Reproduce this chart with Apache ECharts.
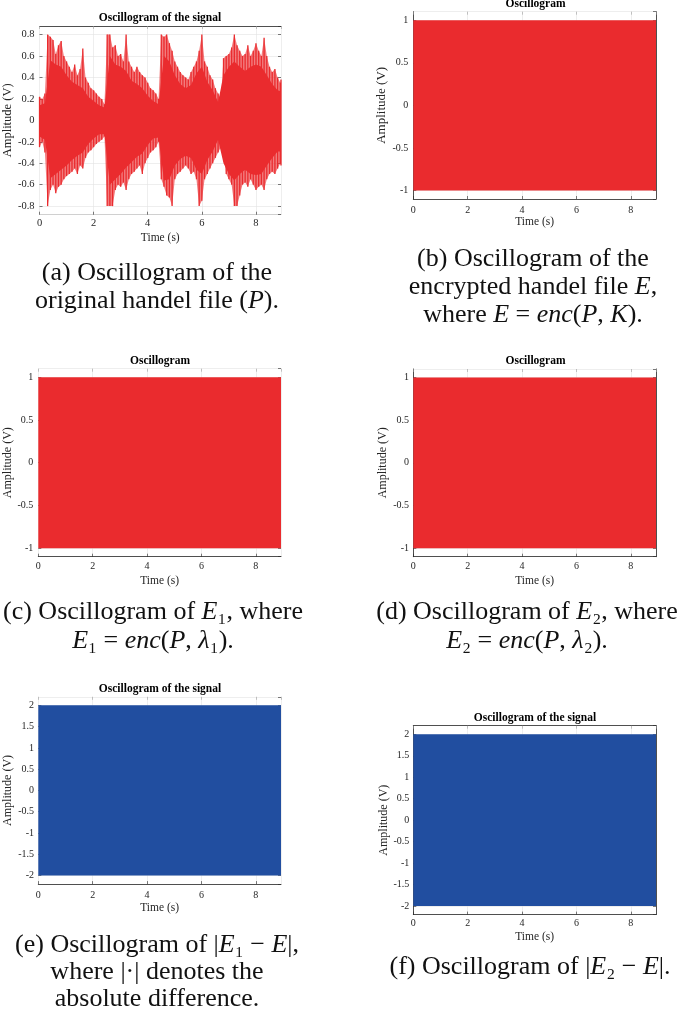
<!DOCTYPE html>
<html><head><meta charset="utf-8">
<script src="https://cdn.jsdelivr.net/npm/echarts@6/dist/echarts.min.js"></script>
<style>html,body{margin:0;padding:0;background:#fff}#c{width:685px;height:1014px}</style>
</head><body><div id="c"></div>
<script>
// ---------------- data ----------------
const tEnd = 8.925;               // duration of the handel clip (s)
const xTicks = [0, 2, 4, 6, 8];

// (a) original signal: peak envelope every 0.1 s
const tPeakA = [0,0.1,0.2,0.3,0.4,0.5,0.6,0.7,0.8,0.9,1,1.1,1.2,1.3,1.4,1.5,1.6,1.7,1.8,1.9,
  2,2.1,2.2,2.3,2.4,2.5,2.6,2.7,2.8,2.9,3,3.1,3.2,3.3,3.4,3.5,3.6,3.7,3.8,3.9,
  4,4.1,4.2,4.3,4.4,4.5,4.6,4.7,4.8,4.9,5,5.1,5.2,5.3,5.4,5.5,5.6,5.7,5.8,5.9,
  6,6.1,6.2,6.3,6.4,6.5,6.6,6.7,6.8,6.9,7,7.1,7.2,7.3,7.4,7.5,7.6,7.7,7.8,7.9,
  8,8.1,8.2,8.3,8.4,8.5,8.6,8.7,8.8,8.9,8.925];
const peakHiA = [0.22,0.2,0.25,0.8,0.78,0.75,0.62,0.7,0.74,0.6,
  0.55,0.5,0.45,0.52,0.42,0.48,0.67,0.4,0.35,0.3,
  0.28,0.25,0.22,0.2,0.15,0.8,0.8,0.68,0.7,0.6,
  0.62,0.55,0.8,0.55,0.5,0.45,0.5,0.45,0.42,0.4,
  0.35,0.3,0.28,0.25,0.2,0.8,0.78,0.8,0.72,0.65,
  0.55,0.5,0.45,0.42,0.4,0.38,0.45,0.5,0.55,0.65,
  0.8,0.55,0.5,0.42,0.38,0.3,0.25,0.2,0.58,0.6,
  0.62,0.68,0.8,0.7,0.65,0.6,0.62,0.7,0.6,0.65,
  0.72,0.65,0.6,0.77,0.6,0.5,0.45,0.48,0.4,0.35,0.38];
const peakLoA = [-0.25,-0.2,-0.3,-0.8,-0.65,-0.6,-0.68,-0.62,-0.6,-0.55,
  -0.52,-0.5,-0.48,-0.45,-0.5,-0.42,-0.45,-0.35,-0.3,-0.28,
  -0.25,-0.22,-0.2,-0.18,-0.15,-0.8,-0.8,-0.8,-0.65,-0.6,
  -0.62,-0.58,-0.65,-0.55,-0.5,-0.48,-0.45,-0.42,-0.5,-0.4,
  -0.35,-0.3,-0.28,-0.25,-0.2,-0.55,-0.62,-0.7,-0.72,-0.8,
  -0.55,-0.5,-0.48,-0.45,-0.42,-0.45,-0.5,-0.48,-0.55,-0.8,
  -0.75,-0.55,-0.5,-0.45,-0.4,-0.35,-0.3,-0.25,-0.28,-0.5,
  -0.55,-0.6,-0.8,-0.8,-0.7,-0.6,-0.58,-0.62,-0.55,-0.6,
  -0.65,-0.62,-0.6,-0.65,-0.55,-0.5,-0.48,-0.5,-0.45,-0.4,-0.42];

// (a) dense core of the signal every 0.2 s
const tCoreA = [0,0.2,0.4,0.6,0.8,1,1.2,1.4,1.6,1.8,2,2.2,2.4,2.6,2.8,3,3.2,3.4,3.6,3.8,
  4,4.2,4.4,4.6,4.8,5,5.2,5.4,5.6,5.8,6,6.2,6.4,6.6,6.8,7,7.2,7.4,7.6,7.8,8,8.2,8.4,8.6,8.8,8.925];
const coreHiA = [0.14,0.16,0.56,0.52,0.5,0.42,0.36,0.33,0.3,0.22,
  0.18,0.14,0.12,0.6,0.52,0.5,0.46,0.37,0.34,0.3,
  0.23,0.18,0.15,0.6,0.55,0.42,0.34,0.3,0.33,0.44,
  0.5,0.36,0.28,0.17,0.42,0.5,0.55,0.5,0.46,0.5,
  0.52,0.5,0.42,0.34,0.28,0.27];
const coreLoA = [-0.15,-0.18,-0.54,-0.5,-0.46,-0.42,-0.37,-0.33,-0.3,-0.22,
  -0.17,-0.13,-0.13,-0.6,-0.55,-0.5,-0.44,-0.39,-0.34,-0.31,
  -0.23,-0.17,-0.16,-0.56,-0.55,-0.42,-0.36,-0.33,-0.35,-0.46,
  -0.5,-0.37,-0.29,-0.18,-0.4,-0.5,-0.56,-0.5,-0.46,-0.5,
  -0.51,-0.5,-0.42,-0.35,-0.29,-0.29];

// (b)-(f): envelopes of the noise-like encrypted / difference signals
const tFill = [0, 1, 2, 3, 4, 5, 6, 7, 8, 8.925];
const hiB = [1,1,1,1,1,1,1,1,1,1],           loB = [-1,-1,-1,-1,-1,-1,-1,-1,-1,-1];
const hiC = [1,1,1,1,1,1,1,1,1,1],           loC = [-1,-1,-1,-1,-1,-1,-1,-1,-1,-1];
const hiD = [1,1,1,1,1,1,1,1,1,1],           loD = [-1,-1,-1,-1,-1,-1,-1,-1,-1,-1];
const hiE = [2,2,2,2,2,2,2,2,2,2],           loE = [-2,-2,-2,-2,-2,-2,-2,-2,-2,-2];
const hiF = [2,2,2,2,2,2,2,2,2,2],           loF = [-2,-2,-2,-2,-2,-2,-2,-2,-2,-2];

// ---------------- styling / layout ----------------
const FONT = 'Liberation Serif';
const TXT = '#262626';
const GRIDC = '#e2e2e2';
const RED = '#EA2B2E';
const BLUE = '#214EA0';
const DARK = '#262626';

const panels = [
  {left:38.3, top:26, w:242.7, h:188.7, yMin:-0.88, yMax:0.88, yStep:0.2, fs:10.5, xm:3, ym:5, xng:17, yng:19, yns:12.5,
   title:'Oscillogram of the signal', tx:160, ty:18, lt:DARK, lr:null, lb:'#c8c8c8', ll:null},
  {left:413.3, top:11.7, w:242.7, h:187.3, yMin:-1.1, yMax:1.1, yStep:0.5, fs:10, xm:6, ym:5, xng:17, yng:15, yns:13,
   title:'Oscillogram', tx:535.5, ty:4.5, lt:null, lr:DARK, lb:DARK, ll:DARK},
  {left:38.3, top:368.7, w:242.7, h:188, yMin:-1.1, yMax:1.1, yStep:0.5, fs:10, xm:4.4, ym:5, xng:18, yng:19, yns:12,
   title:'Oscillogram', tx:160, ty:361, lt:null, lr:null, lb:DARK, ll:null},
  {left:413.3, top:369, w:242.7, h:187.7, yMin:-1.1, yMax:1.1, yStep:0.5, fs:10, xm:4.4, ym:4.3, xng:18, yng:16, yns:12,
   title:'Oscillogram', tx:535.5, ty:361, lt:null, lr:DARK, lb:DARK, ll:DARK},
  {left:38.3, top:696.8, w:242.7, h:187.3, yMin:-2.2, yMax:2.2, yStep:0.5, fs:10, xm:6, ym:4.3, xng:18, yng:19, yns:12,
   title:'Oscillogram of the signal', tx:160, ty:689, lt:null, lr:null, lb:DARK, ll:null},
  {left:413.3, top:725.7, w:242.7, h:188.9, yMin:-2.2, yMax:2.2, yStep:0.5, fs:10, xm:3.4, ym:4, xng:16.4, yng:22, yns:12,
   title:'Oscillogram of the signal', tx:535, ty:718, lt:DARK, lr:DARK, lb:DARK, ll:DARK}
];

const grids = [], xAxes = [], yAxes = [], series = [], graphics = [];

panels.forEach((p, i) => {
  grids.push({left:p.left, top:p.top, width:p.w, height:p.h, show:false});
  const tick = (c) => ({show:true, inside:true, length:3, lineStyle:{color:c, width:0.6}});
  const line = (c) => ({show:!!c, onZero:false, lineStyle:{color:c || DARK, width:0.8}});
  xAxes.push({type:'value', gridIndex:i, position:'bottom', min:0, max:tEnd, interval:2,
    axisLine:line(p.lb), axisTick:tick(DARK),
    axisLabel:{fontSize:p.fs, color:TXT, margin:p.xm, fontFamily:FONT, showMaxLabel:false,
      formatter:(v) => xTicks.indexOf(v) >= 0 ? String(v) : ''},
    splitLine:{show:true, lineStyle:{color:GRIDC, width:0.6}},
    name:'Time (s)', nameLocation:'middle', nameGap:p.xng,
    nameTextStyle:{fontSize:11.5, color:TXT, fontFamily:FONT}});
  xAxes.push({type:'value', gridIndex:i, position:'top', min:0, max:tEnd, interval:2,
    axisLine:line(p.lt), axisTick:tick('#a0a0a0'), axisLabel:{show:false}, splitLine:{show:false}});
  yAxes.push({type:'value', gridIndex:i, position:'left', min:p.yMin, max:p.yMax,
    minInterval:p.yStep, maxInterval:p.yStep, splitNumber:8,
    axisLine:line(p.ll), axisTick:tick(DARK),
    axisLabel:{fontSize:p.fs, color:TXT, margin:p.ym, fontFamily:FONT, showMinLabel:false, showMaxLabel:false},
    splitLine:{show:true, lineStyle:{color:GRIDC, width:0.6}},
    name:'Amplitude (V)', nameLocation:'middle', nameGap:p.yng, nameRotate:90,
    nameTextStyle:{fontSize:p.yns, color:TXT, fontFamily:FONT}});
  yAxes.push({type:'value', gridIndex:i, position:'right', min:p.yMin, max:p.yMax,
    minInterval:p.yStep, maxInterval:p.yStep, splitNumber:8,
    axisLine:line(p.lr), axisTick:tick(DARK), axisLabel:{show:false}, splitLine:{show:false}});
  graphics.push({type:'text', x:p.tx, y:p.ty, silent:true,
    style:{text:p.title, fill:'#000', font:'bold 11.5px "Liberation Serif"',
      align:'center', verticalAlign:'middle', textAlign:'center', textVerticalAlign:'middle'}});
});

// filled envelope drawn as one polygon through the axis scales
function band(panel, t, lo, hi, color, opacity, z) {
  series.push({type:'custom', xAxisIndex:2*panel, yAxisIndex:2*panel, silent:true, z:z,
    data:[[t[0], lo[0]]], encode:{x:0, y:1},
    renderItem:(params, api) => {
      const pts = [];
      for (let k = 0; k < t.length; k++) pts.push(api.coord([t[k], hi[k]]));
      for (let k = t.length - 1; k >= 0; k--) pts.push(api.coord([t[k], lo[k]]));
      return {type:'polygon', shape:{points:pts}, style:{fill:color, opacity:opacity}};
    }});
}
// individual needle peaks of the original signal
function spikes(panel, t, lo, hi, color, opacity, z) {
  series.push({type:'custom', xAxisIndex:2*panel, yAxisIndex:2*panel, silent:true, z:z,
    data:t.map((x, k) => [x, lo[k], hi[k]]), encode:{x:0, y:[1, 2]},
    renderItem:(params, api) => {
      const a = api.coord([api.value(0), api.value(1)]);
      const b = api.coord([api.value(0), api.value(2)]);
      return {type:'line', shape:{x1:a[0], y1:a[1], x2:b[0], y2:b[1]},
        style:{stroke:color, lineWidth:1.3, opacity:opacity}};
    }});
}

band(0, tPeakA, peakLoA, peakHiA, RED, 0.62, 2);
spikes(0, tPeakA, peakLoA, peakHiA, RED, 1, 3);
band(0, tCoreA, coreLoA, coreHiA, RED, 1, 4);
band(1, tFill, loB, hiB, RED, 1, 2);
band(2, tFill, loC, hiC, RED, 1, 2);
band(3, tFill, loD, hiD, RED, 1, 2);
band(4, tFill, loE, hiE, BLUE, 1, 2);
band(5, tFill, loF, hiF, BLUE, 1, 2);

// ---------------- captions ----------------
const CAP = 26;
const rich = {
  n:{fontFamily:FONT, fontSize:CAP, fill:'#111'},
  i:{fontFamily:FONT, fontSize:CAP, fontStyle:'italic', fill:'#111'}
};
const captions = [
  [157, 273, '{n|(a) Oscillogram of the}'],
  [157, 301, '{n|original handel file (}{i|P}{n|).}'],
  [533, 259, '{n|(b) Oscillogram of the}'],
  [533, 287, '{n|encrypted handel file }{i|E}{n|,}'],
  [533, 315, '{n|where }{i|E}{n| = }{i|enc}{n|(}{i|P}{n|, }{i|K}{n|).}'],
  [153, 612, '{n|(c) Oscillogram of }{i|E}{n|₁, where}'],
  [153, 641, '{i|E}{n|₁ = }{i|enc}{n|(}{i|P}{n|, }{i|λ}{n|₁).}'],
  [527, 612, '{n|(d) Oscillogram of }{i|E}{n|₂, where}'],
  [527, 641, '{i|E}{n|₂ = }{i|enc}{n|(}{i|P}{n|, }{i|λ}{n|₂).}'],
  [157, 945, '{n|(e) Oscillogram of |}{i|E}{n|₁ − }{i|E}{n||,}'],
  [157, 972, '{n|where |·| denotes the}'],
  [157, 999, '{n|absolute difference.}'],
  [530, 967, '{n|(f) Oscillogram of |}{i|E}{n|₂ − }{i|E}{n||.}']
];
captions.forEach(c => graphics.push({type:'text', x:c[0], y:c[1], silent:true,
  style:{text:c[2], rich:rich, font:CAP + 'px "Liberation Serif"', fill:'#111',
    align:'center', verticalAlign:'middle', textAlign:'center', textVerticalAlign:'middle'}}));

const chart = echarts.init(document.getElementById('c'), null, {renderer:'canvas', width:685, height:1014});
chart.setOption({
  animation:false,
  backgroundColor:'#fff',
  textStyle:{fontFamily:FONT},
  grid:grids, xAxis:xAxes, yAxis:yAxes, series:series,
  graphic:{elements:graphics}
});
</script></body></html>
